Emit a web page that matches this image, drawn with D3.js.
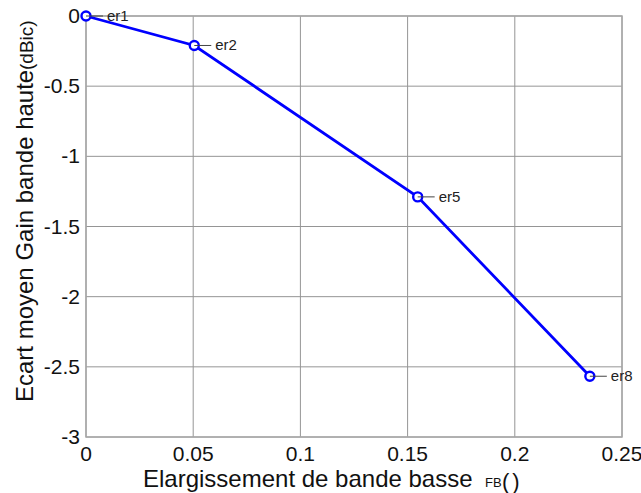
<!DOCTYPE html>
<html><head><meta charset="utf-8">
<script src="https://cdn.jsdelivr.net/npm/d3@7"></script>
<style>body{margin:0;background:#fff}svg{display:block}text{font-family:"Liberation Sans",Arial,sans-serif}</style>
</head><body>
<svg id="c" width="641" height="493"></svg>
<script>
const labels = ["er1","er2","er5","er8"];
const xValues = [0, 0.0505, 0.1547, 0.235];
const yValues = [0, -0.21, -1.289, -2.567];
const xTicks = [0, 0.05, 0.1, 0.15, 0.2, 0.25];
const yTicks = [0, -0.5, -1, -1.5, -2, -2.5, -3];
const xTickLabels = ["0","0.05","0.1","0.15","0.2","0.25"];
const yTickLabels = ["0","-0.5","-1","-1.5","-2","-2.5","-3"];

const svg = d3.select("#c");
const L = 86, R = 622, T = 16, B = 437;
const x = d3.scaleLinear().domain([0, 0.25]).range([L, R]);
const y = d3.scaleLinear().domain([-3, 0]).range([B, T]);
const grid = "#959595";

svg.append("g").selectAll("line").data(xTicks).join("line")
  .attr("x1", d => x(d)).attr("x2", d => x(d)).attr("y1", T).attr("y2", B)
  .attr("stroke", grid).attr("stroke-width", 1);
svg.append("g").selectAll("line").data(yTicks).join("line")
  .attr("y1", d => y(d)).attr("y2", d => y(d)).attr("x1", L).attr("x2", R)
  .attr("stroke", grid).attr("stroke-width", 1);
svg.append("rect").attr("x", L).attr("y", T).attr("width", R - L).attr("height", B - T)
  .attr("fill", "none").attr("stroke", "#a8a8a8").attr("stroke-width", 1.5);

svg.append("g").selectAll("text").data(xTicks).join("text")
  .attr("x", d => x(d)).attr("y", 461).attr("text-anchor", "middle")
  .attr("font-size", 21).attr("fill", "#111").text((d, i) => xTickLabels[i]);
svg.append("g").selectAll("text").data(yTicks).join("text")
  .attr("x", 80).attr("y", d => y(d) + 7).attr("text-anchor", "end")
  .attr("font-size", 21).attr("fill", "#111").text((d, i) => yTickLabels[i]);

const pts = xValues.map((v, i) => [v, yValues[i]]);
svg.append("path").datum(pts)
  .attr("d", d3.line().x(d => x(d[0])).y(d => y(d[1])))
  .attr("fill", "none").attr("stroke", "#0000ff").attr("stroke-width", 2.8);
svg.append("g").selectAll("circle").data(pts).join("circle")
  .attr("cx", d => x(d[0])).attr("cy", d => y(d[1])).attr("r", 4.5)
  .attr("fill", "#fff").attr("stroke", "#0000ff").attr("stroke-width", 2.4);
svg.append("g").selectAll("line").data(pts).join("line")
  .attr("x1", d => x(d[0])).attr("x2", d => x(d[0]) + 17)
  .attr("y1", d => y(d[1])).attr("y2", d => y(d[1]))
  .attr("stroke", "#444").attr("stroke-width", 1);
svg.append("g").selectAll("text").data(pts).join("text")
  .attr("x", d => x(d[0]) + 21).attr("y", d => y(d[1]) + 5)
  .attr("font-size", 15).attr("fill", "#222").text((d, i) => labels[i]);

svg.append("text").attr("x", 143).attr("y", 487).attr("font-size", 24).attr("fill", "#111")
  .text("Elargissement de bande basse");
svg.append("text").attr("x", 485).attr("y", 487).attr("font-size", 13).attr("fill", "#111").text("FB");
svg.append("text").attr("x", 502).attr("y", 489).attr("font-size", 22).attr("letter-spacing", 3).attr("fill", "#111").text("()");

svg.append("text").attr("transform", "translate(33,402) rotate(-90)")
  .attr("font-size", 24).attr("fill", "#111").text("Ecart moyen Gain bande haute");
svg.append("text").attr("transform", "translate(33,70) rotate(-90)")
  .attr("font-size", 19).attr("fill", "#111").text("(dBic)");
</script>
</body></html>
